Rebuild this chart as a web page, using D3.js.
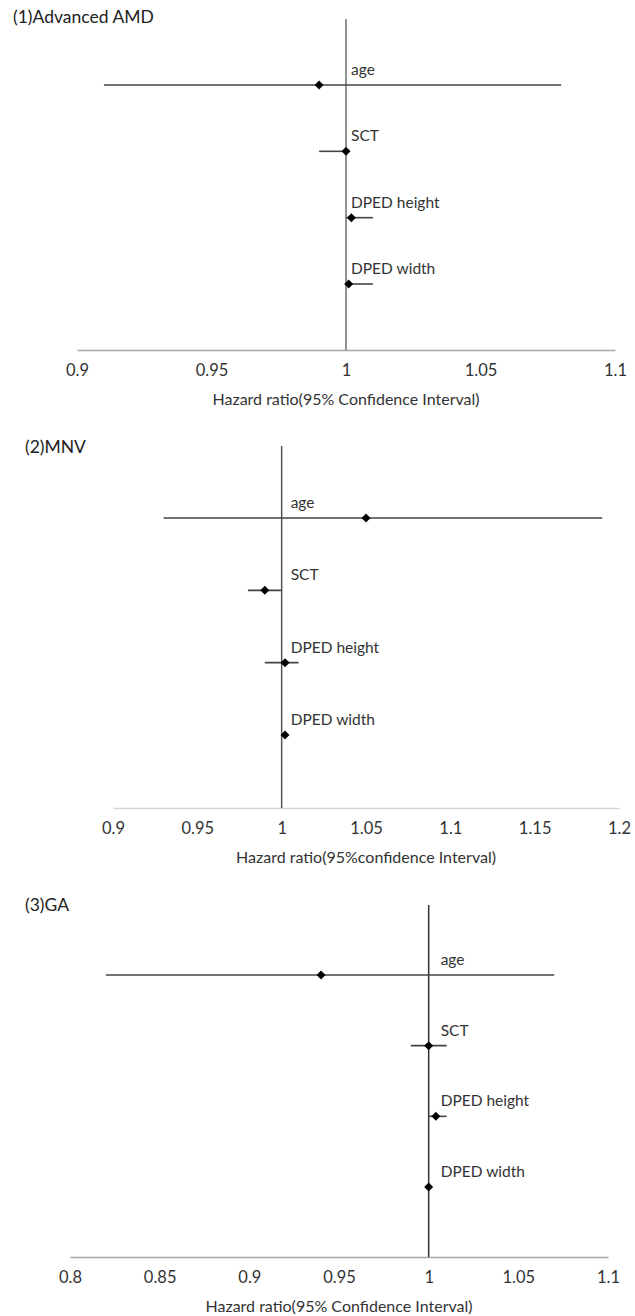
<!DOCTYPE html>
<html>
<head>
<meta charset="utf-8">
<script src="https://cdn.jsdelivr.net/npm/d3@7"></script>
<style>
  body { margin: 0; background: #fff; }
  svg { display: block; font-family: Lato, "Open Sans", sans-serif; }
</style>
</head>
<body>
<div id="chart"></div>
<script>
// --- data (hazard ratios) ---
var categories = ['age', 'SCT', 'DPED height', 'DPED width'];

var amd_hr = [0.99, 1.00, 1.002, 1.001];
var amd_low = [0.91, 0.99, 1.00, 1.00];
var amd_high = [1.08, 1.00, 1.01, 1.01];
var amd_ticks = [0.9, 0.95, 1, 1.05, 1.1];

var mnv_hr = [1.05, 0.99, 1.002, 1.002];
var mnv_low = [0.93, 0.98, 0.99, 1.00];
var mnv_high = [1.19, 1.00, 1.01, 1.00];
var mnv_ticks = [0.9, 0.95, 1, 1.05, 1.1, 1.15, 1.2];

var ga_hr = [0.94, 1.00, 1.004, 1.00];
var ga_low = [0.82, 0.99, 1.00, 1.00];
var ga_high = [1.07, 1.01, 1.01, 1.00];
var ga_ticks = [0.8, 0.85, 0.9, 0.95, 1, 1.05, 1.1];

var titles = ['(1)Advanced AMD', '(2)MNV', '(3)GA'];
var axis_titles = ['Hazard ratio(95% Confidence Interval)',
    'Hazard ratio(95%confidence Interval)',
    'Hazard ratio(95% Confidence Interval)'];

// --- layout of each panel ---
var panels = [
    {hr: amd_hr, low: amd_low, high: amd_high, ticks: amd_ticks, x0: 77, x1: 615, rowTop: 85, rowBottom: 284,
        axisY: 350, vTop: 19, titleX: 13, titleY: 23, labelDx: 5, axisColor: '#a6a6a6', vColor: '#6e6e6e'},
    {hr: mnv_hr, low: mnv_low, high: mnv_high, ticks: mnv_ticks, x0: 113, x1: 619, rowTop: 518, rowBottom: 735,
        axisY: 808, vTop: 446, titleX: 25, titleY: 453, labelDx: 9, axisColor: '#d4d4d4', vColor: '#555'},
    {hr: ga_hr, low: ga_low, high: ga_high, ticks: ga_ticks, x0: 70, x1: 608, rowTop: 975, rowBottom: 1187,
        axisY: 1257, vTop: 905, titleX: 25, titleY: 911, labelDx: 12, axisColor: '#a6a6a6', vColor: '#333'}
];

var svg = d3.select('#chart').append('svg')
    .attr('width', 635)
    .attr('height', 1316);

function draw_panel(p, idx) {
    var g = svg.append('g');
    var ticks = p.ticks;
    var x = d3.scaleLinear().domain([ticks[0], ticks[ticks.length - 1]]).range([p.x0, p.x1]);
    var y = d3.scalePoint().domain(categories).range([p.rowTop, p.rowBottom]);

    // panel title
    g.append('text')
        .attr('x', p.titleX)
        .attr('y', p.titleY)
        .attr('font-size', '17.5px')
        .attr('fill', '#222')
        .text(titles[idx]);

    // bottom axis
    var axis = d3.axisBottom(x).tickValues(ticks).tickSize(0).tickPadding(14)
        .tickFormat(function (d) { return String(d); });
    var ax = g.append('g').attr('transform', 'translate(0,' + p.axisY + ')').call(axis);
    ax.select('.domain').attr('stroke', p.axisColor).attr('stroke-width', 1.6);
    ax.selectAll('text')
        .attr('font-size', '16.5px')
        .attr('fill', '#333')
        .style('font-family', 'Lato, "Open Sans", sans-serif');

    g.append('text')
        .attr('x', (p.x0 + p.x1) / 2)
        .attr('y', p.axisY + 55)
        .attr('text-anchor', 'middle')
        .attr('font-size', '16px')
        .attr('fill', '#333')
        .text(axis_titles[idx]);

    // reference line at HR = 1
    g.append('line')
        .attr('x1', x(1)).attr('x2', x(1))
        .attr('y1', p.vTop).attr('y2', p.axisY)
        .attr('stroke', p.vColor)
        .attr('stroke-width', 1.5);

    var rows = categories.map(function (c, i) {
        return {name: c, hr: p.hr[i], low: p.low[i], high: p.high[i]};
    });

    // confidence intervals
    g.selectAll('.ci').data(rows).enter().append('line')
        .attr('class', 'ci')
        .attr('x1', function (d) { return x(d.low); })
        .attr('x2', function (d) { return x(d.high); })
        .attr('y1', function (d) { return y(d.name); })
        .attr('y2', function (d) { return y(d.name); })
        .attr('stroke', '#444')
        .attr('stroke-width', 1.6);

    // point estimates
    g.selectAll('.pt').data(rows).enter().append('path')
        .attr('class', 'pt')
        .attr('d', d3.symbol().type(d3.symbolSquare).size(40))
        .attr('transform', function (d) {
            return 'translate(' + x(d.hr) + ',' + y(d.name) + ') rotate(45)';
        })
        .attr('fill', '#000');

    // row labels
    g.selectAll('.lbl').data(rows).enter().append('text')
        .attr('class', 'lbl')
        .attr('x', x(1) + p.labelDx)
        .attr('y', function (d) { return y(d.name) - 10; })
        .attr('font-size', '15.5px')
        .attr('fill', '#333')
        .text(function (d) { return d.name; });
}

panels.forEach(draw_panel);
</script>
</body>
</html>
